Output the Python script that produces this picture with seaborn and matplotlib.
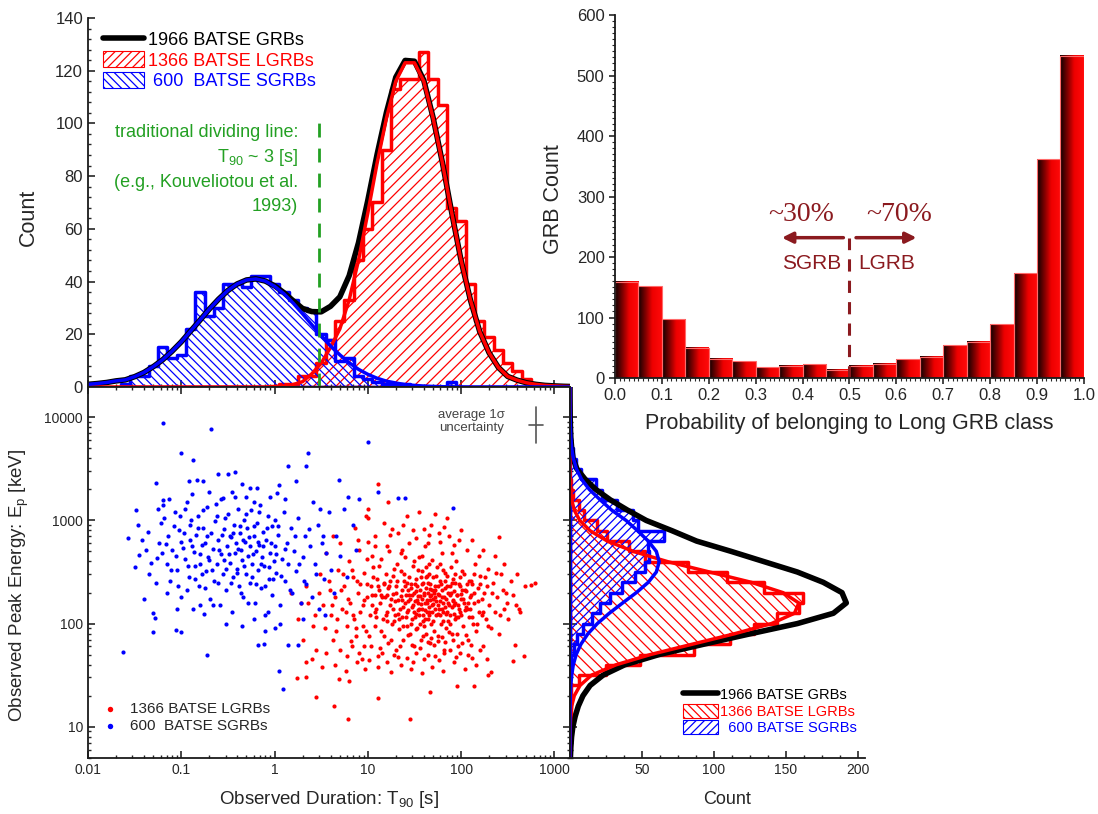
import numpy as np
import pandas as pd
import seaborn as sns
import matplotlib.pyplot as plt
import matplotlib.ticker as mticker
from matplotlib.lines import Line2D
from matplotlib.patches import Patch
from matplotlib.colors import LinearSegmentedColormap

# ---- T90 histograms: bin centres in log10(T90/s), 0.1 dex bins ----
sgrb_t90_bins = [-1.6, -1.5, -1.4, -1.3, -1.2, -1.1, -1.0, -0.9, -0.8, -0.7, -0.6, -0.5,
                 -0.4, -0.3, -0.2, -0.1, 0.0, 0.1, 0.2, 0.3, 0.4, 0.5, 0.6, 0.7, 0.8, 0.9,
                 1.0, 1.1, 1.2, 1.3, 1.4, 1.5, 1.6, 1.7, 1.8, 1.9]
sgrb_t90_count = [1, 4, 4, 8, 15, 11, 12, 22, 36, 27, 30, 39, 39, 38, 42, 42, 39, 36,
                  33, 30, 29, 20, 18, 10, 11, 4, 3, 2, 1, 1, 1, 0, 0, 0, 0, 2]
lgrb_t90_bins = [0.1, 0.2, 0.3, 0.4, 0.5, 0.6, 0.7, 0.8, 0.9, 1.0, 1.1, 1.2, 1.3, 1.4,
                 1.5, 1.6, 1.7, 1.8, 1.9, 2.0, 2.1, 2.2, 2.3, 2.4, 2.5, 2.6, 2.7, 2.8]
lgrb_t90_count = [1, 1, 4, 4, 9, 18, 25, 33, 48, 60, 70, 90, 113, 117, 117, 127, 117,
                  107, 68, 63, 39, 25, 19, 14, 9, 6, 3, 1]

t90_curve_log = np.round(np.arange(-2.0, 3.25, 0.1), 1)
all_t90_fit = [1.0, 1.3, 1.7, 2.3, 2.7, 3.9, 5.5, 7.7, 10.3, 13.5,
               17.1, 21.2, 25.3, 29.5, 33.3, 36.6, 39.1, 40.6, 41.0, 40.2,
               38.4, 35.8, 32.7, 29.8, 28.6, 28.5, 30.6, 34.2, 42.2, 54.7,
               70.8, 88.3, 104.2, 117.5, 123.9, 123.6, 116.4, 102.2, 85.1, 66.1,
               48.0, 33.0, 21.0, 13.0, 7.4, 4.0, 2.6, 1.6, 1.0, 0.6,
               0.4, 0.25, 0.15]
sgrb_t90_fit = [1.0, 1.3, 1.7, 2.3, 2.7, 3.9, 5.5, 7.7, 10.3, 13.5,
                17.1, 21.2, 25.3, 29.5, 33.3, 36.6, 39.1, 40.6, 41.0, 40.2,
                38.2, 35.4, 31.8, 27.8, 23.6, 19.5, 15.6, 12.2, 9.2, 6.7,
                4.8, 3.3, 2.2, 1.5, 0.9, 0.6, 0.35, 0.2, 0.1, 0.06,
                0.03, 0, 0, 0, 0, 0, 0, 0, 0, 0,
                0, 0, 0]
lgrb_t90_fit = [0, 0, 0, 0, 0, 0, 0, 0, 0, 0,
                0, 0, 0, 0, 0, 0, 0, 0, 0, 0,
                0.2, 0.4, 0.9, 2.0, 5.0, 9.0, 15.0, 22.0, 33.0, 48.0,
                66, 85, 102, 116, 123, 123, 116, 102, 85, 66,
                48, 33, 21, 13, 7.4, 4.0, 2.6, 1.6, 1.0, 0.6,
                0.4, 0.25, 0.15]

# ---- Ep histograms: bin centres in log10(Ep/keV), 0.1 dex bins ----
lgrb_ep_bins = [1.05, 1.15, 1.25, 1.35, 1.45, 1.55, 1.65, 1.75, 1.85, 1.95, 2.05, 2.15,
                2.25, 2.35, 2.45, 2.55, 2.65, 2.75, 2.85, 2.95, 3.05, 3.15, 3.25, 3.35]
lgrb_ep_count = [1, 1, 1, 1, 6, 25, 49, 86, 111, 128, 144, 159, 162, 135, 109, 82,
                 52, 41, 26, 19, 10, 6, 2, 1]
sgrb_ep_bins = [1.65, 1.75, 1.85, 1.95, 2.05, 2.15, 2.25, 2.35, 2.45, 2.55, 2.65, 2.75,
                2.85, 2.95, 3.05, 3.15, 3.25, 3.35, 3.45, 3.55, 3.65, 3.75]
sgrb_ep_count = [1, 3, 5, 9, 15, 21, 28, 36, 45, 52, 55, 54, 65, 47, 44, 33, 22, 18,
                 8, 4, 2, 1]

# fitted curves of the side panel, sampled every 0.1 dex from 0.7 to 4.3
ep_curve_log = np.round(np.arange(0.7, 4.35, 0.1), 1)
all_ep_fit = [0.3, 0.6, 1.1, 2.0, 3.6, 5.8, 9.0, 14, 23, 38,
              62, 93, 125, 158, 183, 192, 189, 176, 158, 135,
              112, 88, 71, 53, 40, 28, 18, 10.5, 4.8, 2.2,
              1.2, 0.6, 0.3, 0.15, 0.1, 0.05, 0.03]
sgrb_ep_fit = [0, 0, 0, 0, 0.05, 0.1, 0.25, 0.55, 1.2, 2.3,
               4.3, 7.6, 12.4, 19.0, 27.3, 36.6, 46.1, 54.4, 60.0, 62.0,
               60.0, 54.4, 47.0, 39.0, 29.0, 21.0, 13.5, 8.0, 4.5, 2.4,
               1.2, 0.6, 0.3, 0.12, 0.05, 0.02, 0.01]
lgrb_ep_fit = [0, 0, 0.05, 0.2, 0.5, 1.2, 3.0, 7.0, 15, 32,
               56, 85, 114, 140, 156, 159, 148, 126, 97, 68,
               44, 26, 14, 6.8, 3.0, 1.2, 0.45, 0.15, 0.05, 0,
               0, 0, 0, 0, 0, 0, 0]

# ---- probability of belonging to the long class ----
prob_bins = [0.025, 0.075, 0.125, 0.175, 0.225, 0.275, 0.325, 0.375, 0.425, 0.475,
             0.525, 0.575, 0.625, 0.675, 0.725, 0.775, 0.825, 0.875, 0.925, 0.975]
prob_count = [159, 152, 97, 50, 32, 28, 18, 20, 23, 14, 20, 24, 31, 35, 54, 60, 89,
              173, 362, 533]

# ---- scatter points (T90 [s], Ep [keV]) ----
sgrb_points = [
    (0.063, 8900), (0.21, 7700), (10.0, 5800), (0.099, 4500), (0.133, 3900), (2.3, 4500),
    (1.38, 3400), (2.2, 3400), (0.25, 2800), (0.32, 2800), (0.38, 2950), (0.054, 2300),
    (0.12, 2400), (0.148, 2450), (0.173, 2400), (0.45, 2250), (0.55, 2050), (0.65, 2050),
    (1.12, 2200), (1.7, 2400), (4.9, 2450), (1.07, 1830), (6.2, 1700), (13.0, 1900),
    (21.0, 1650), (25.0, 1650), (81.0, 1330), (0.063, 1580), (0.063, 1400), (0.033, 1250),
    (0.027, 680), (0.032, 350), (0.04, 175), (0.024, 53), (0.05, 82), (0.052, 112),
    (0.05, 128), (0.087, 86), (0.1, 82), (0.19, 50), (0.67, 62), (0.78, 64), (1.4, 62),
    (1.8, 62), (1.12, 35), (1.22, 23),
    (0.035, 460), (0.042, 520), (0.045, 300), (0.055, 430), (0.058, 610), (0.06, 950),
    (0.065, 1050), (0.07, 380), (0.072, 700), (0.075, 260), (0.08, 520), (0.085, 1200),
    (0.09, 330), (0.095, 800), (0.1, 620), (0.1, 180), (0.11, 420), (0.115, 1500),
    (0.12, 280), (0.125, 900), (0.13, 560), (0.135, 140), (0.14, 360), (0.145, 720),
    (0.15, 1100), (0.155, 230), (0.16, 470), (0.17, 850), (0.175, 125), (0.18, 600),
    (0.185, 320), (0.19, 1350), (0.2, 410), (0.205, 175), (0.21, 760), (0.22, 530),
    (0.225, 260), (0.23, 980), (0.24, 380), (0.25, 640), (0.26, 150), (0.265, 1600),
    (0.27, 470), (0.28, 300), (0.29, 820), (0.3, 210), (0.31, 560), (0.32, 1150),
    (0.33, 390), (0.34, 690), (0.35, 130), (0.36, 280), (0.37, 900), (0.38, 480),
    (0.39, 600), (0.4, 340), (0.41, 1300), (0.42, 230), (0.43, 750), (0.44, 520),
    (0.45, 410), (0.46, 180), (0.47, 1000), (0.48, 620), (0.5, 300), (0.51, 850),
    (0.52, 450), (0.54, 560), (0.55, 250), (0.56, 1250), (0.58, 380), (0.6, 700),
    (0.62, 160), (0.63, 500), (0.65, 950), (0.67, 330), (0.69, 580), (0.7, 1400),
    (0.72, 220), (0.74, 440), (0.76, 780), (0.78, 360), (0.8, 120), (0.82, 650),
    (0.85, 1100), (0.87, 270), (0.9, 480), (0.93, 880), (0.95, 190), (0.98, 400),
    (1.0, 1000), (1.02, 560), (1.05, 310), (1.1, 720), (1.15, 150), (1.2, 420),
    (1.25, 1200), (1.3, 260), (1.35, 600), (1.4, 380), (1.5, 850), (1.55, 200),
    (1.6, 500), (1.7, 320), (1.8, 1050), (1.9, 160), (2.0, 440), (2.1, 700),
    (2.2, 240), (2.4, 560), (2.5, 180), (2.7, 380), (2.9, 900), (3.0, 140),
    (3.2, 600), (3.4, 270), (3.6, 480), (3.8, 1200), (4.0, 330), (4.3, 200),
    (4.6, 700), (5.0, 450), (5.5, 1300), (6.0, 280), (7.0, 900), (7.5, 520),
    (8.0, 1600), (0.11, 1300), (0.13, 1800), (0.16, 150), (0.2, 1900), (0.28, 1650),
    (0.35, 1900), (0.5, 1700), (0.6, 1500), (0.9, 1700), (1.3, 1600), (2.6, 1500),
    (3.1, 1300), (0.07, 200), (0.09, 140), (0.6, 110), (0.45, 95), (0.3, 100),
    (1.0, 90), (2.0, 110), (0.8, 85), (3.5, 120),
    (0.034, 900), (0.038, 640), (0.044, 780), (0.048, 390), (0.053, 250), (0.057, 1300),
    (0.062, 480), (0.068, 590), (0.074, 1600), (0.078, 330), (0.083, 880), (0.088, 450),
    (0.093, 230), (0.098, 1100), (0.104, 540), (0.108, 760), (0.118, 360), (0.123, 640),
    (0.128, 1000), (0.138, 490), (0.142, 270), (0.152, 840), (0.158, 380), (0.166, 580),
    (0.172, 1250), (0.178, 220), (0.188, 700), (0.195, 440), (0.215, 330), (0.235, 1450),
    (0.245, 250), (0.255, 520), (0.275, 720), (0.285, 410), (0.295, 1050), (0.305, 340),
    (0.325, 470), (0.345, 250), (0.355, 760), (0.375, 1700), (0.395, 310), (0.405, 530),
    (0.425, 880), (0.435, 200), (0.455, 650), (0.475, 360), (0.49, 1150), (0.53, 690),
    (0.57, 280), (0.59, 470), (0.61, 880), (0.64, 240), (0.66, 620), (0.68, 1200),
    (0.71, 380), (0.75, 560), (0.79, 230), (0.83, 840), (0.88, 350), (0.92, 600),
    (0.97, 270), (1.04, 470), (1.08, 880), (1.18, 290), (1.28, 530), (1.45, 210),
    (1.65, 700), (1.85, 380), (2.05, 260), (2.35, 820), (2.8, 300), (3.3, 700),
    (0.115, 210), (0.165, 300), (0.22, 150), (0.24, 1100), (0.33, 700), (0.52, 160),
    (0.86, 130), (1.15, 100),
]
lgrb_points = [
    (13, 2250), (16.6, 1510), (10, 1280), (10, 1050), (257, 685), (560, 237), (620, 250),
    (390, 152), (430, 130), (380, 62), (470, 49), (360, 43), (138, 25), (90, 25),
    (47, 21.6), (13, 19), (28, 11.8), (6.2, 12), (4.3, 16), (2.8, 19.3), (1.76, 29.5),
    (2.2, 30), (2.2, 42), (4.9, 29), (6.3, 28), (195, 32), (210, 34),
    (3.0, 200), (3.3, 150), (3.5, 90), (3.8, 260), (4.0, 120), (4.2, 70), (4.5, 180),
    (4.8, 330), (5.0, 55), (5.3, 140), (5.6, 230), (6.0, 95), (6.3, 400), (6.5, 160),
    (6.8, 60), (7.0, 280), (7.2, 110), (7.5, 75), (7.8, 200), (8.0, 520), (8.3, 130),
    (8.6, 45), (9.0, 310), (9.2, 170), (9.5, 85), (9.8, 240), (10, 620), (10.5, 120),
    (10.8, 60), (11, 190), (11.5, 350), (12, 95), (12.2, 140), (12.5, 270), (13, 48),
    (13.3, 210), (13.6, 160), (14, 420), (14.5, 110), (15, 75), (15.3, 180), (15.7, 300),
    (16, 130), (16.5, 65), (17, 230), (17.5, 150), (18, 820), (18.3, 100), (18.7, 195),
    (19, 340), (19.5, 120), (20, 55), (20.5, 260), (21, 170), (21.5, 88), (22, 140),
    (22.5, 480), (23, 210), (23.5, 115), (24, 70), (24.5, 300), (25, 160), (25.5, 190),
    (26, 95), (26.5, 250), (27, 135), (27.5, 600), (28, 175), (28.5, 80), (29, 220),
    (29.5, 145), (30, 110), (30.5, 360), (31, 200), (31.5, 60), (32, 165), (32.5, 270),
    (33, 125), (33.5, 90), (34, 230), (34.5, 185), (35, 440), (35.5, 140), (36, 100),
    (36.5, 210), (37, 155), (37.5, 70), (38, 320), (38.5, 175), (39, 120), (39.5, 250),
    (40, 95), (40.5, 190), (41, 560), (41.5, 135), (42, 220), (42.5, 80), (43, 160),
    (43.5, 290), (44, 110), (44.5, 200), (45, 145), (45.5, 380), (46, 65), (46.5, 240),
    (47, 170), (47.5, 100), (48, 900), (48.5, 210), (49, 130), (49.5, 280), (50, 155),
    (51, 85), (52, 230), (53, 180), (54, 120), (55, 350), (56, 195), (57, 75), (58, 140),
    (59, 260), (60, 165), (61, 100), (62, 480), (63, 210), (64, 130), (65, 55), (66, 180),
    (67, 310), (68, 145), (69, 90), (70, 230), (72, 160), (74, 700), (76, 120), (78, 200),
    (80, 80), (82, 270), (84, 150), (86, 110), (88, 400), (90, 190), (92, 60), (95, 240),
    (98, 130), (100, 175), (103, 320), (106, 95), (110, 210), (113, 145), (116, 520),
    (120, 70), (124, 180), (128, 260), (132, 115), (136, 160), (140, 380), (145, 85),
    (150, 220), (155, 130), (160, 290), (166, 175), (172, 60), (178, 200), (185, 110),
    (192, 340), (200, 150), (210, 90), (220, 250), (230, 130), (240, 180), (255, 80),
    (270, 300), (285, 140), (300, 200), (320, 110), (340, 260), (1.8, 110), (2.0, 70),
    (2.3, 160), (2.5, 45), (2.7, 120), (1.5, 200), (2.2, 230), (2.8, 55), (3.2, 38),
    (4.4, 40), (5.8, 35), (7.6, 42), (9.4, 36), (12.8, 38), (17.8, 34), (22.8, 40),
    (28.8, 36), (37.8, 33), (48.8, 38), (63.8, 35), (84.8, 42), (110, 36), (145, 40),
    (190, 45),
    (11.2, 150), (12.8, 230), (14.2, 180), (15.8, 120), (17.2, 260), (18.8, 140),
    (20.2, 200), (21.8, 110), (23.2, 170), (24.8, 230), (26.2, 130), (27.8, 190),
    (29.2, 100), (30.8, 150), (32.2, 240), (33.8, 170), (35.2, 120), (36.8, 280),
    (38.2, 140), (39.8, 200), (41.2, 110), (42.8, 170), (44.2, 250), (45.8, 130),
    (47.2, 190), (48.8, 150), (50.5, 105), (52.5, 210), (54.5, 165), (56.5, 125),
    (58.5, 190), (60.5, 240), (62.5, 140), (64.5, 105), (66.5, 220), (68.5, 175),
    (71, 130), (73, 200), (75, 150), (77, 100), (79, 250), (81, 170), (83, 125),
    (85, 205), (87, 160), (89, 115), (91, 190), (94, 140), (97, 230), (101, 120),
    (105, 175), (109, 135), (114, 205), (118, 160), (123, 115), (127, 190), (131, 240),
    (135, 100), (12, 190), (16.5, 220), (19.8, 165), (24, 145), (27, 210), (31, 130),
    (34.5, 160), (38.5, 240), (43, 130), (46, 185), (51.5, 200), (57, 150), (63, 180),
    (69, 125), (76, 230), (82, 165), (92, 150), (103, 210), (115, 140),
    (6.0, 48), (8.1, 52), (10.2, 44), (13.5, 58), (16, 42), (19, 50), (26, 46), (33, 52),
    (40, 45), (52, 48), (66, 52), (88, 47), (120, 50), (160, 55), (6.6, 68), (3.6, 52),
    (4.6, 85), (2.6, 95), (1.9, 160), (3.1, 300),
    (5.0, 600), (7.3, 850), (9.5, 1100), (12, 700), (15, 950), (21, 750), (26, 1100),
    (33, 680), (40, 820), (52, 1150), (60, 620), (70, 1050), (85, 580), (100, 800),
    (130, 640), (170, 520), (230, 450), (290, 380), (400, 300), (35, 1200), (45, 720),
    (16, 560), (11, 450), (65, 860), (24, 900), (3.6, 480), (4.2, 700),
    (5.2, 210), (5.9, 130), (6.7, 330), (7.4, 90), (8.2, 240), (8.9, 150), (9.7, 420),
    (10.4, 75), (11.3, 280), (12.1, 115), (13.1, 360), (13.9, 85), (14.8, 250),
    (15.9, 190), (16.8, 500), (17.6, 70), (18.5, 290), (19.3, 105), (20.7, 380),
    (21.9, 60), (22.9, 320), (23.8, 95), (25.2, 440), (26.8, 78), (27.9, 280),
    (29.8, 62), (31.2, 400), (32.8, 88), (34.8, 330), (36.2, 58), (37.8, 450), (39.2, 76),
    (41.8, 350), (43.8, 66), (45.2, 300), (47.8, 72), (49.2, 410), (51.8, 62), (53.8, 290),
    (56.2, 68), (58.8, 380), (61.8, 74), (64.2, 330), (67.8, 66), (70.8, 290), (73.8, 82),
    (77.8, 350), (81.8, 70), (86.2, 300), (90.8, 80), (96.2, 280), (101.8, 65), (108, 300),
    (114, 78), (121, 260), (128, 62), (137, 300), (148, 100), (158, 240), (170, 130),
    (182, 280), (195, 95), (215, 200), (235, 310), (260, 120), (280, 210), (310, 160),
    (360, 190), (420, 140), (480, 230), (7.9, 640), (11.8, 560), (17.3, 720), (23.3, 520),
    (30.2, 800), (44.6, 600), (57.6, 760), (79.5, 480), (94.5, 650), (155, 450), (9.1, 60),
    (14.1, 52), (21.2, 47), (30.6, 42), (44.1, 50), (58.2, 44), (75.2, 56), (98.5, 52),
    (130, 46), (4.1, 150), (3.9, 210), (4.7, 110), (5.4, 300), (6.1, 175), (6.9, 120),
    (7.7, 260), (8.8, 95), (9.9, 180), (10.9, 230), (11.9, 130), (13.8, 190), (15.1, 240),
    (16.2, 105), (17.9, 175), (19.9, 230), (21.1, 125), (22.7, 185), (24.2, 260),
    (25.9, 115), (27.3, 165), (28.7, 240), (30.1, 190), (31.8, 115), (33.2, 205),
    (34.9, 135), (36.7, 185), (38.9, 105), (40.9, 160), (42.2, 280), (44.9, 120),
    (46.9, 215), (49.8, 175), (53.1, 140), (55.9, 230), (59.9, 120), (63.9, 160),
    (67.1, 260), (71.9, 105), (75.9, 190), (80.9, 145), (85.9, 250), (91.9, 115),
    (99.1, 195), (107, 160), (117, 240), (126, 140), (139, 200), (152, 165), (168, 120),
    (188, 230),
]

t90_lims = (0.01, 1470)
ep_lims = (4.97, 19700)
divide_t90 = 3.0

red, blue, green = '#ff0000', '#0000ff', '#23a023'
dark_red = '#8b1a1f'

sns.set_style('ticks')
plt.rcParams['font.family'] = ['Liberation Sans', 'DejaVu Sans']
plt.rcParams['mathtext.default'] = 'regular'
plt.rcParams['hatch.linewidth'] = 0.9
plt.rcParams['axes.linewidth'] = 1.3
plt.rcParams['axes.edgecolor'] = '#1a1a1a'

fig = plt.figure(figsize=(10.98, 8.14), dpi=100)
ax_top = fig.add_axes([0.0801, 0.5246, 0.4390, 0.4533])
ax_sc = fig.add_axes([0.0801, 0.0688, 0.4390, 0.4558])
ax_mg = fig.add_axes([0.5191, 0.0688, 0.2687, 0.4558])
ax_bar = fig.add_axes([0.5601, 0.5356, 0.4271, 0.4459])

# ---------------- top: T90 distribution ----------------
lgrb_t90 = pd.DataFrame({'t90': 10 ** np.array(lgrb_t90_bins), 'n': lgrb_t90_count})
sgrb_t90 = pd.DataFrame({'t90': 10 ** np.array(sgrb_t90_bins), 'n': sgrb_t90_count})
sns.histplot(data=lgrb_t90, x='t90', weights='n', binwidth=0.1, binrange=(0.05, 2.85),
             log_scale=True, element='step', fill=True, color=red, facecolor='none',
             edgecolor=red, hatch='///', linewidth=2.5, ax=ax_top)
sns.histplot(data=sgrb_t90, x='t90', weights='n', binwidth=0.1, binrange=(-1.65, 1.95),
             log_scale=True, element='step', fill=True, color=blue, facecolor='none',
             edgecolor=blue, hatch='\\\\\\\\', linewidth=2.5, ax=ax_top)
t90_grid = 10 ** t90_curve_log
sns.lineplot(x=t90_grid, y=all_t90_fit, color='black', lw=4, ax=ax_top)
sns.lineplot(x=t90_grid, y=lgrb_t90_fit, color=red, lw=2.5, ax=ax_top)
sns.lineplot(x=t90_grid, y=sgrb_t90_fit, color=blue, lw=2.5, ax=ax_top)
ax_top.plot([divide_t90, divide_t90], [0, 100], color=green, lw=2, ls=(0, (5, 4)))

for txt, yy in [('traditional dividing line:', 0.691), ('T$_{90}$ ~ 3 [s]', 0.623),
                ('(e.g., Kouveliotou et al.', 0.553), ('1993)', 0.488)]:
    ax_top.text(0.436, yy, txt, color=green, fontsize=13, ha='right', va='center',
                transform=ax_top.transAxes)

ax_top.set_xlim(t90_lims)
ax_top.set_ylim(0, 140)
ax_top.yaxis.set_major_locator(mticker.MultipleLocator(20))
ax_top.yaxis.set_minor_locator(mticker.MultipleLocator(4))
ax_top.xaxis.set_major_locator(mticker.LogLocator(base=10, numticks=12))
ax_top.xaxis.set_minor_locator(mticker.LogLocator(base=10, subs=np.arange(2, 10), numticks=12))
ax_top.xaxis.set_minor_formatter(mticker.NullFormatter())
ax_top.tick_params(which='both', direction='in', labelbottom=False, labelsize=12)
ax_top.tick_params(which='major', length=5, width=1.2)
ax_top.tick_params(which='minor', length=2.5, width=1)
ax_top.set_xlabel('')
ax_top.set_ylabel('Count', fontsize=15.5)
ax_top.yaxis.set_label_coords(-0.102, 0.46)
sns.despine(ax=ax_top)

top_handles = [Line2D([], [], color='black', lw=4),
               Patch(facecolor='white', edgecolor=red, hatch='////', lw=0.8),
               Patch(facecolor='white', edgecolor=blue, hatch='\\\\\\\\', lw=0.8)]
leg = ax_top.legend(top_handles, ['1966 BATSE GRBs', '1366 BATSE LGRBs', ' 600  BATSE SGRBs'],
                    loc='upper left', bbox_to_anchor=(0.031, 0.965), frameon=False,
                    fontsize=13, handlelength=2.3, handleheight=1.0, handletextpad=0.2,
                    labelspacing=0.12, borderpad=0, borderaxespad=0)
for t, c in zip(leg.get_texts(), ['black', red, blue]):
    t.set_color(c)

# ---------------- bottom left: Ep vs T90 ----------------
lgrb_df = pd.DataFrame(lgrb_points, columns=['t90', 'ep'])
sgrb_df = pd.DataFrame(sgrb_points, columns=['t90', 'ep'])
ax_sc.set(xscale='log', yscale='log')
sns.scatterplot(data=lgrb_df, x='t90', y='ep', color=red, s=9, linewidth=0,
                label='1366 BATSE LGRBs', ax=ax_sc)
sns.scatterplot(data=sgrb_df, x='t90', y='ep', color=blue, s=9, linewidth=0,
                label='600  BATSE SGRBs', ax=ax_sc)
ax_sc.set_xlim(t90_lims)
ax_sc.set_ylim(ep_lims)
for axis in (ax_sc.xaxis, ax_sc.yaxis):
    axis.set_major_locator(mticker.LogLocator(base=10, numticks=12))
    axis.set_minor_locator(mticker.LogLocator(base=10, subs=np.arange(2, 10), numticks=12))
    axis.set_major_formatter(mticker.FuncFormatter(lambda v, p: f'{v:g}'))
    axis.set_minor_formatter(mticker.NullFormatter())
ax_sc.tick_params(which='both', direction='in', top=True, right=True, labelsize=10)
ax_sc.tick_params(which='major', length=5, width=1.2)
ax_sc.tick_params(which='minor', length=2.5, width=1)
ax_sc.set_xlabel('Observed Duration: T$_{90}$ [s]', fontsize=13.5)
ax_sc.set_ylabel('Observed Peak Energy: E$_{p}$ [keV]', fontsize=13.5)
ax_sc.xaxis.set_label_coords(0.5, -0.083)
ax_sc.yaxis.set_label_coords(-0.118, 0.466)
sc_leg = ax_sc.legend(loc='upper left', bbox_to_anchor=(0.03, 0.15), frameon=False,
                      fontsize=11, markerscale=1.3, handlelength=1.0, handletextpad=0.8,
                      labelspacing=0.2, borderpad=0, borderaxespad=0)

ax_sc.text(0.796, 0.907, 'average 1\u03c3\nuncertainty', transform=ax_sc.transAxes,
           fontsize=9.5, color='#444444', ha='center', va='center', linespacing=1.2)
ax_sc.plot([0.929, 0.929], [0.85, 0.945], transform=ax_sc.transAxes, color='#555555', lw=1.2)
ax_sc.plot([0.914, 0.944], [0.898, 0.898], transform=ax_sc.transAxes, color='#555555', lw=1.2)

# ---------------- bottom right: Ep distribution ----------------
lgrb_ep = pd.DataFrame({'ep': 10 ** np.array(lgrb_ep_bins), 'n': lgrb_ep_count})
sgrb_ep = pd.DataFrame({'ep': 10 ** np.array(sgrb_ep_bins), 'n': sgrb_ep_count})
sns.histplot(data=lgrb_ep, y='ep', weights='n', binwidth=0.1, binrange=(1.0, 3.4),
             log_scale=True, element='step', fill=True, color=red, facecolor='none',
             edgecolor=red, hatch='\\\\\\', linewidth=2.5, ax=ax_mg)
sns.histplot(data=sgrb_ep, y='ep', weights='n', binwidth=0.1, binrange=(1.6, 3.8),
             log_scale=True, element='step', fill=True, color=blue, facecolor='none',
             edgecolor=blue, hatch='////', linewidth=2.5, ax=ax_mg)
ep_grid = 10 ** ep_curve_log
sns.lineplot(x=all_ep_fit, y=ep_grid, orient='y', sort=False, color='black', lw=4, ax=ax_mg)
sns.lineplot(x=lgrb_ep_fit, y=ep_grid, orient='y', sort=False, color=red, lw=2.5, ax=ax_mg)
sns.lineplot(x=sgrb_ep_fit, y=ep_grid, orient='y', sort=False, color=blue, lw=2.5, ax=ax_mg)

ax_mg.set_ylim(ep_lims)
ax_mg.set_xlim(0, 205)
ax_mg.yaxis.set_major_locator(mticker.LogLocator(base=10, numticks=12))
ax_mg.yaxis.set_minor_locator(mticker.LogLocator(base=10, subs=np.arange(2, 10), numticks=12))
ax_mg.yaxis.set_minor_formatter(mticker.NullFormatter())
ax_mg.xaxis.set_major_locator(mticker.MultipleLocator(50))
ax_mg.xaxis.set_minor_locator(mticker.MultipleLocator(12.5))
ax_mg.xaxis.set_major_formatter(mticker.FuncFormatter(lambda v, p: '' if v == 0 else f'{v:g}'))
ax_mg.tick_params(which='both', direction='in', labelleft=False, labelsize=10)
ax_mg.tick_params(which='major', length=5, width=1.2)
ax_mg.tick_params(which='minor', length=2.5, width=1)
ax_mg.set_ylabel('')
ax_mg.set_xlabel('Count', fontsize=13)
ax_mg.xaxis.set_label_coords(0.531, -0.09)
sns.despine(ax=ax_mg)

mg_handles = [Line2D([], [], color='black', lw=4),
              Patch(facecolor='white', edgecolor=red, hatch='\\\\\\\\', lw=0.8),
              Patch(facecolor='white', edgecolor=blue, hatch='////', lw=0.8)]
mg_leg = ax_mg.legend(mg_handles, ['1966 BATSE GRBs', '1366 BATSE LGRBs', '  600 BATSE SGRBs'],
                      loc='upper left', bbox_to_anchor=(0.383, 0.19), frameon=False,
                      fontsize=10.5, handlelength=2.4, handleheight=1.1, handletextpad=0.15,
                      labelspacing=0.08, borderpad=0, borderaxespad=0)
for t, c in zip(mg_leg.get_texts(), ['black', red, blue]):
    t.set_color(c)

# ---------------- top right: class probability ----------------
prob_df = pd.DataFrame({'p': prob_bins, 'n': prob_count})
sns.histplot(data=prob_df, x='p', weights='n', binwidth=0.05, binrange=(0, 1),
             element='bars', fill=True, color=red, alpha=1, edgecolor='#ff6a6a',
             linewidth=0.8, ax=ax_bar)
grad_cmap = LinearSegmentedColormap.from_list(
    'bar_grad', [(0, '#0e0000'), (0.3, '#7a0000'), (0.6, '#ee0000'), (1, '#ff0a0a')])
grad = np.linspace(0, 1, 64).reshape(1, -1)
for bar in list(ax_bar.patches):
    h = bar.get_height()
    if h <= 0:
        continue
    x0, w = bar.get_x(), bar.get_width()
    ax_bar.imshow(grad, extent=[x0, x0 + w, 0, h], aspect='auto', cmap=grad_cmap,
                  interpolation='bilinear', zorder=1.5)
    bar.set_facecolor('none')
    bar.set_zorder(2)

ax_bar.plot([0.5, 0.5], [0, 232], color=dark_red, lw=2.2, ls=(0, (4, 3)))
arrow_kw = dict(arrowstyle='-|>', color=dark_red, lw=2.5, mutation_scale=16, shrinkA=0, shrinkB=0)
ax_bar.annotate('', xy=(0.356, 232), xytext=(0.487, 232), arrowprops=arrow_kw)
ax_bar.annotate('', xy=(0.643, 232), xytext=(0.514, 232), arrowprops=arrow_kw)
ax_bar.text(0.396, 271, '~30%', color=dark_red, fontsize=20, family='Liberation Serif',
            ha='center', va='center')
ax_bar.text(0.606, 271, '~70%', color=dark_red, fontsize=20, family='Liberation Serif',
            ha='center', va='center')
ax_bar.text(0.419, 190, 'SGRB', color=dark_red, fontsize=15, ha='center', va='center')
ax_bar.text(0.58, 190, 'LGRB', color=dark_red, fontsize=15, ha='center', va='center')

ax_bar.set_xlim(0, 1)
ax_bar.set_ylim(0, 600)
ax_bar.xaxis.set_major_locator(mticker.MultipleLocator(0.1))
ax_bar.xaxis.set_minor_locator(mticker.MultipleLocator(0.01))
ax_bar.xaxis.set_major_formatter(mticker.FormatStrFormatter('%.1f'))
ax_bar.yaxis.set_major_locator(mticker.MultipleLocator(100))
ax_bar.yaxis.set_minor_locator(mticker.MultipleLocator(10))
ax_bar.tick_params(which='both', direction='out', labelsize=12)
ax_bar.tick_params(which='major', length=4, width=1.2)
ax_bar.tick_params(which='minor', length=2, width=0.8)
ax_bar.set_xlabel('Probability of belonging to Long GRB class', fontsize=15.5)
ax_bar.set_ylabel('GRB Count', fontsize=15.5)
ax_bar.xaxis.set_label_coords(0.5, -0.097)
ax_bar.yaxis.set_label_coords(-0.109, 0.493)
sns.despine(ax=ax_bar)

fig.savefig('out.png', dpi=100)
